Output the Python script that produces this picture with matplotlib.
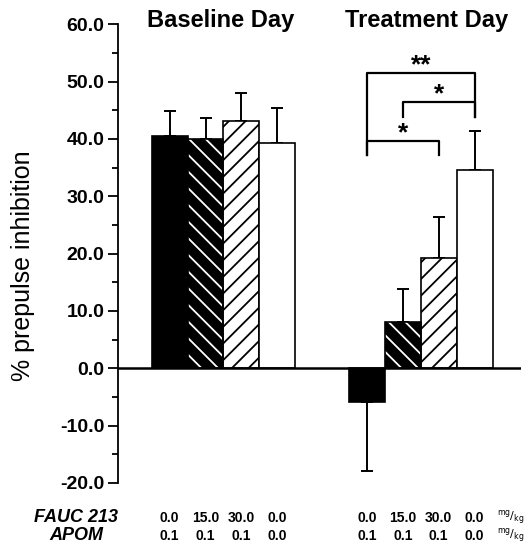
import numpy as np
import matplotlib
matplotlib.use("Agg")
import matplotlib.pyplot as plt
from matplotlib.transforms import blended_transform_factory

plt.rcParams['font.family'] = ['Liberation Sans', 'DejaVu Sans']
plt.rcParams['hatch.linewidth'] = 1.3
plt.rcParams['axes.unicode_minus'] = False

# data
baseline_mean = [40.5, 40.0, 43.2, 39.3]
baseline_err = [4.3, 3.6, 4.8, 6.0]
treatment_mean = [-5.9, 8.0, 19.2, 34.6]
treatment_err = [12.1, 5.9, 7.2, 6.7]
fauc_doses = ["0.0", "15.0", "30.0", "0.0"]
apom_doses = ["0.1", "0.1", "0.1", "0.0"]
group_titles = ["Baseline Day", "Treatment Day"]
yticks = [-20, -10, 0, 10, 20, 30, 40, 50, 60]

x_base = np.arange(4)
x_treat = np.arange(4) + 5.5
width = 1.0

fig = plt.figure(figsize=(5.27, 5.5), dpi=100)
ax = fig.add_axes([0.224, 0.122, 0.765, 0.834])


def draw_bars(xs, means, errs):
    for i, (x, m, e) in enumerate(zip(xs, means, errs)):
        if i == 0:
            ax.bar(x, m, width, color='black', edgecolor='black', linewidth=1.2, zorder=2)
        elif i == 1:
            ax.bar(x, m, width, color='black', edgecolor='white', hatch='\\\\', linewidth=0, zorder=2)
            ax.bar(x, m, width, fill=False, edgecolor='black', linewidth=1.2, zorder=3)
        elif i == 2:
            ax.bar(x, m, width, color='white', edgecolor='black', hatch='//', linewidth=1.2, zorder=2)
        else:
            ax.bar(x, m, width, color='white', edgecolor='black', linewidth=1.2, zorder=2)
        if m >= 0:
            yerr = [[0], [e]]
        else:
            yerr = [[e], [0]]
        ax.errorbar(x, m, yerr=yerr, fmt='none', ecolor='black', elinewidth=1.4,
                    capsize=4.5, capthick=1.4, zorder=1)


draw_bars(x_base, baseline_mean, baseline_err)
draw_bars(x_treat, treatment_mean, treatment_err)

ax.axhline(0, color='black', linewidth=1.8, zorder=4)

ax.set_xlim(-1.44, 9.8)
ax.set_ylim(-20, 60)
ax.set_yticks(yticks)
ax.set_yticklabels(["%.1f" % v for v in yticks], fontsize=14, fontweight='bold')
ax.set_yticks(np.arange(-15, 60, 10), minor=True)
ax.tick_params(axis='y', which='major', length=7, width=1.3, pad=3)
ax.tick_params(axis='y', which='minor', length=4, width=1.3)
ax.set_xticks([])
for s in ['top', 'right', 'bottom']:
    ax.spines[s].set_visible(False)
ax.spines['left'].set_linewidth(1.3)
ax.spines['left'].set_bounds(-20, 60)

ax.set_ylabel("% prepulse inhibition", fontsize=18)
ax.yaxis.set_label_coords(-0.205, 0.473)

# titles
ty = 1 - 20 / 550
fig.text(221 / 527, ty, group_titles[0], ha='center', va='center',
         fontsize=17, fontweight='bold')
fig.text(427 / 527, ty, group_titles[1], ha='center', va='center',
         fontsize=17, fontweight='bold')

# significance brackets
def bracket(x1, x2, y, h1, h2, label):
    ax.plot([x1, x1, x2, x2], [y - h1, y, y, y - h2], color='black', lw=1.6, zorder=5)
    ax.text((x1 + x2) / 2, y + 0.1, label, ha='center', va='baseline', fontsize=19, fontweight='bold')

bracket(x_treat[0], x_treat[3], 51.5, 14.3, 7.7, "**")
bracket(x_treat[1], x_treat[3], 46.4, 2.6, 2.6, "*")
bracket(x_treat[0], x_treat[2], 39.6, 2.4, 2.4, "*")

# dose table
trans = blended_transform_factory(ax.transData, fig.transFigure)
y1, y2 = 1 - 518 / 550, 1 - 536 / 550
fig.text(76 / 527, y1, "FAUC 213", ha='center', va='center', fontsize=13,
         fontweight='bold', style='italic')
fig.text(76 / 527, y2, "APOM", ha='center', va='center', fontsize=13,
         fontweight='bold', style='italic')
for xs in (x_base, x_treat):
    for x, f, a in zip(xs, fauc_doses, apom_doses):
        ax.text(x, y1, f, transform=trans, ha='center', va='center', fontsize=10, fontweight='bold')
        ax.text(x, y2, a, transform=trans, ha='center', va='center', fontsize=10, fontweight='bold')
for yy in (y1, y2):
    fig.text(511 / 527, yy, r"$^{\mathrm{mg}}/_{\mathrm{kg}}$", ha='center', va='center', fontsize=8)

fig.savefig("out.png", dpi=100)
